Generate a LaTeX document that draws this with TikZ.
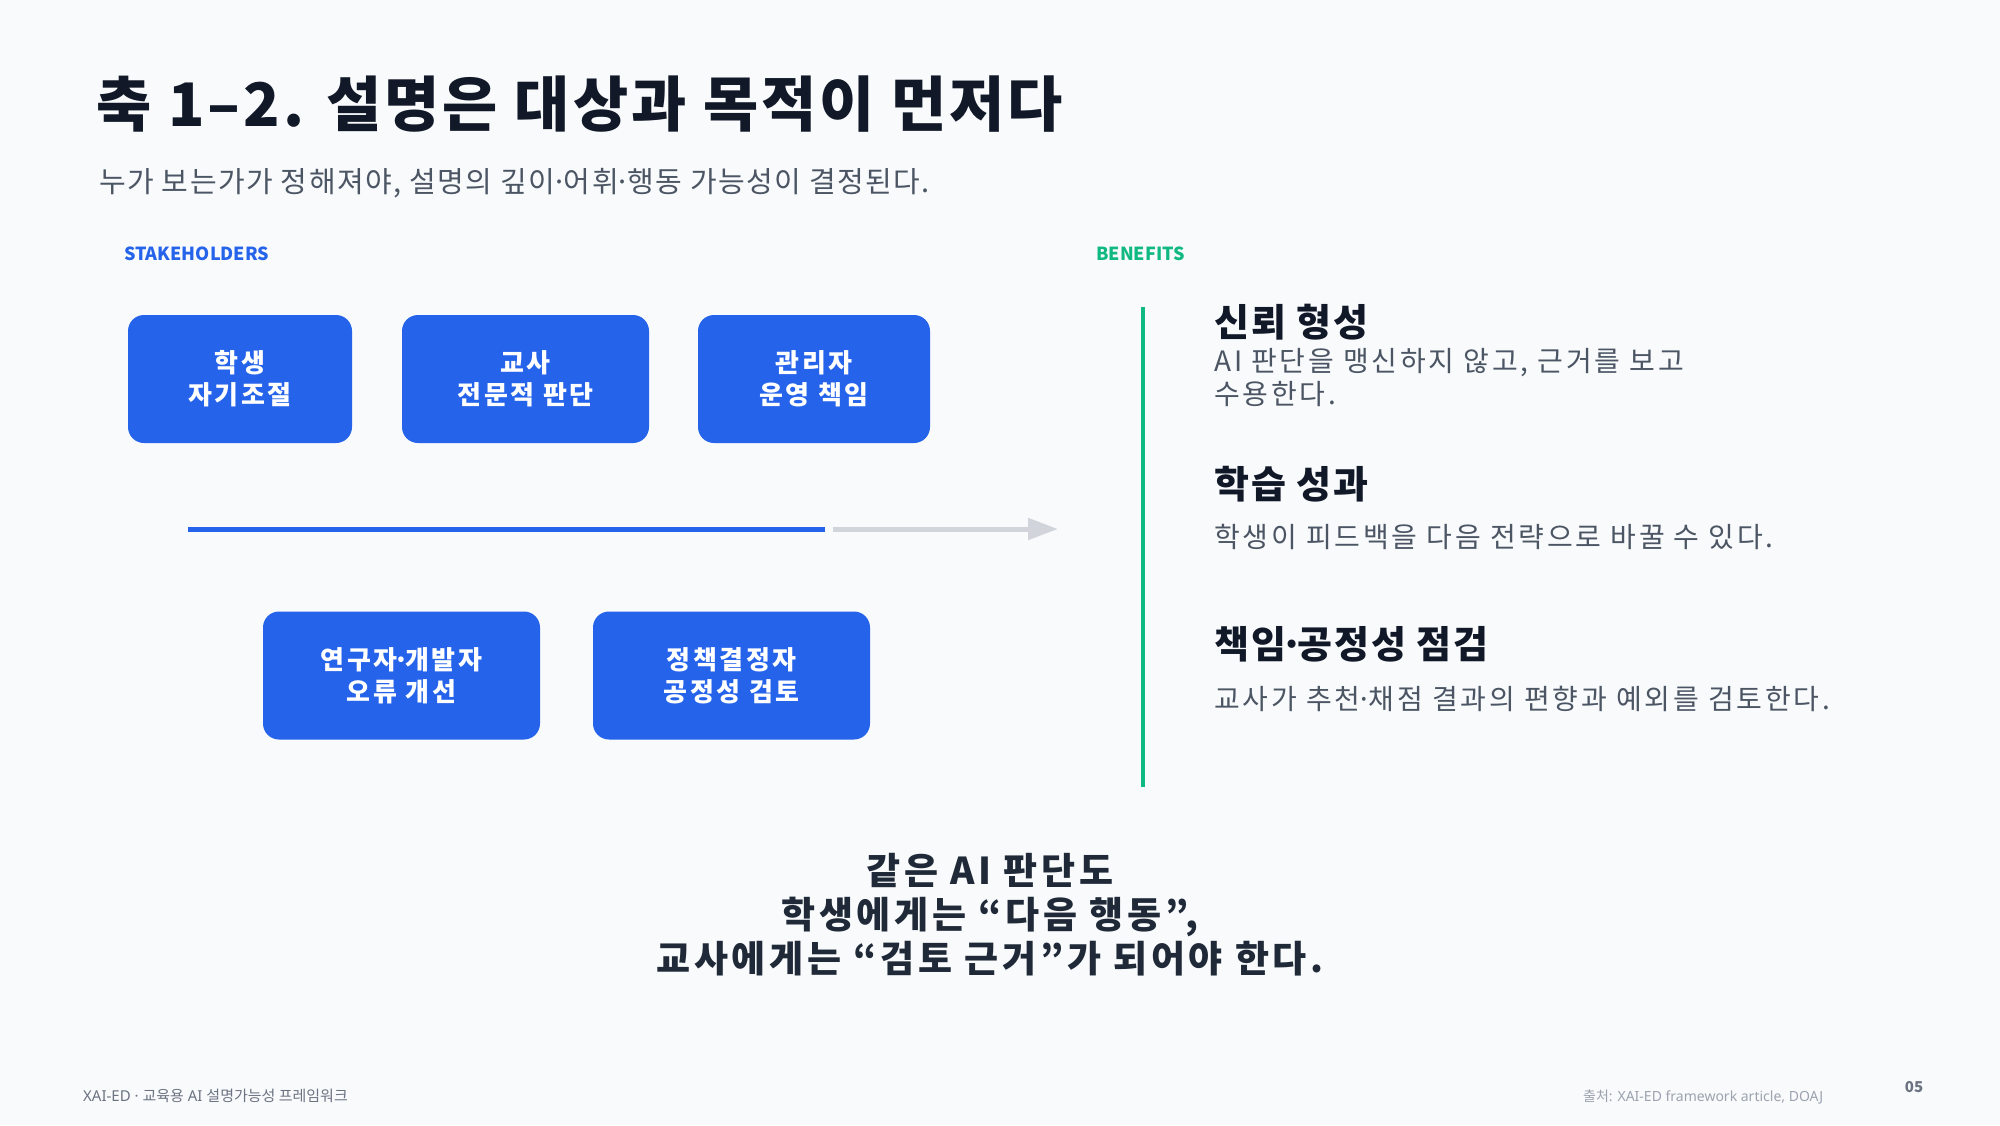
\documentclass[tikz,border=0pt]{standalone}
\usepackage{fontspec}
\setmainfont{Noto Sans}
\newfontfamily\kr{Noto Sans CJK KR}
\newfontfamily\krw{Noto Sans CJK KR}[LetterSpace=5]
\newfontfamily\krww{Noto Sans CJK KR}[LetterSpace=10]
\newcommand\dt{\makebox[0.3em]{·}}
\usetikzlibrary{arrows.meta}
\definecolor{bg}{HTML}{F8FAFC}
\definecolor{ink}{HTML}{111827}
\definecolor{ink2}{HTML}{1F2937}
\definecolor{body}{HTML}{4B5563}
\definecolor{blu}{HTML}{2563EB}
\definecolor{grn}{HTML}{10B981}
\definecolor{track}{HTML}{D1D5DB}
\definecolor{foot}{HTML}{6B7280}
\definecolor{foot2}{HTML}{9CA3AF}
\begin{document}
\begin{tikzpicture}[x=1pt, y=-1pt, font=\kr,
        blk/.style={fill=blu, rounded corners=16pt, text=white, align=center, minimum height=128pt, inner sep=0pt,
          font=\krww\bfseries\fontsize{26}{32}\selectfont},
        head/.style={anchor=base west, inner sep=0pt, text=ink, font=\krw\bfseries\fontsize{38}{44}\selectfont},
        txt/.style={anchor=base west, inner sep=0pt, text=body, align=left, font=\krww\fontsize{28}{33}\selectfont},
        tag/.style={anchor=base west, inner sep=0pt, font=\kr\bfseries\fontsize{18}{22}\selectfont},
        ft/.style={anchor=base west, inner sep=0pt},
        bar/.style={line width=5pt}]
      \path[use as bounding box, fill=bg] (0,0) rectangle (2000,1125);
      \node[anchor=base west, inner sep=0pt, text=ink, font=\krw\bfseries\fontsize{60}{72}\selectfont] (title) at (96,126) {축 1–2. 설명은 대상과 목적이 먼저다};
      \node[anchor=base west, inner sep=0pt, text=body, font=\krw\fontsize{29}{34}\selectfont] (sub) at (99,192) {누가 보는가가 정해져야, 설명의 깊이\dt 어휘\dt 행동 가능성이 결정된다.};
      \node[tag, text=blu] (stk) at (124,260) {STAKEHOLDERS};
      \node[tag, text=grn] (ben) at (1096,260) {BENEFITS};
      \node[blk, minimum width=224pt] (stu) at (240,379)     {학생\\자기조절};
      \node[blk, minimum width=247pt] (tea) at (525.5,379)   {교사\\전문적 판단};
      \node[blk, minimum width=232pt] (adm) at (814,379)     {관리자\\운영 책임};
      \node[blk, minimum width=277pt] (dev) at (401.5,675.5) {연구자\dt 개발자\\오류 개선};
      \node[blk, minimum width=277pt] (pol) at (731.5,675.5) {정책결정자\\공정성 검토};
      \coordinate (barL) at (188,529);
      \coordinate (barM) at (825,529);
      \coordinate (trkL) at (833,529);
      \coordinate (trkR) at (1058,529);
      \draw[bar, blu] (barL) -- (barM);
      \draw[bar, track, -{Triangle[length=30pt, width=21pt]}] (trkL) -- (trkR);
      \coordinate (gT) at (1143,307);
      \coordinate (gB) at (1143,787);
      \draw[grn, line width=4pt] (gT) -- (gB);
      \node[head] (b1)  at (1214,336) {신뢰 형성};
      \node[txt]  (b1t) at (1214,404) {AI 판단을 맹신하지 않고, 근거를 보고\\수용한다.};
      \node[head] (b2)  at (1214,498) {학습 성과};
      \node[txt]  (b2t) at (1214,547) {학생이 피드백을 다음 전략으로 바꿀 수 있다.};
      \node[head] (b3)  at (1214,658) {책임\dt 공정성 점검};
      \node[txt]  (b3t) at (1214,709) {교사가 추천\dt 채점 결과의 편향과 예외를 검토한다.};
      \node[align=center, inner sep=0pt, text=ink2, font=\krww\bfseries\fontsize{37}{44}\selectfont] (msg) at (990,915)
        {같은 AI 판단도\\학생에게는 “다음 행동”,\\교사에게는 “검토 근거”가 되어야 한다.};
      \node[ft, text=foot, font=\fontsize{15}{18}\selectfont]  (fl) at (83,1101)   {XAI-ED · {\kr 교육용} AI {\kr 설명가능성 프레임워크}};
      \node[ft, text=foot2, font=\fontsize{14}{17}\selectfont] (fr) at (1583,1101) {{\kr 출처}: XAI-ED framework article, DOAJ};
      \node[inner sep=0pt, text=foot, font=\kr\bfseries\fontsize{15}{18}\selectfont] (pg) at (1914,1087) {05};
    \end{tikzpicture}
\end{document}
